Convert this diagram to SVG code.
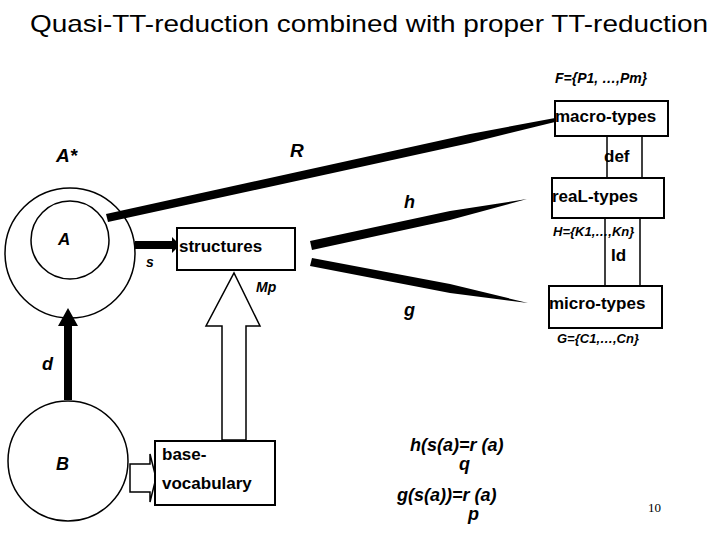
<svg xmlns="http://www.w3.org/2000/svg" width="720" height="540" viewBox="0 0 720 540">
<style>
.t{font-family:"Liberation Sans",Arial,sans-serif;font-weight:bold;fill:#000}
.i{font-style:italic}
.box{fill:#fff;stroke:#000;stroke-width:2}
.ln{fill:none;stroke:#000;stroke-width:1.5}
</style>
<rect width="720" height="540" fill="#fff"/>
<text x="30" y="32" font-family="Liberation Sans,Arial,sans-serif" font-size="24" textLength="678" lengthAdjust="spacingAndGlyphs">Quasi-TT-reduction combined with proper TT-reduction</text>
<g id="connectors">
<polygon points="106,214 108,222 470,143 555,122 555,118 470,134"/>
<polygon points="135,241 172,241 172,237 180,245 172,253 172,249 135,249"/>
<polygon points="310,241 312,250 450,220 527,199 450,211"/>
<polygon points="312,258 310,266 450,293 528,303 450,284"/>
<polygon points="64,400 72,400 72,326 78,326 68,308 58,326 64,326"/>
<polygon points="222,440 246,440 246,326 260,326 234,273 206,326 222,326" fill="#fff" stroke="#000" stroke-width="1.5"/>
<polygon points="130,464 150,464 150,454 156,478 150,502 150,492 130,492" fill="#fff" stroke="#000" stroke-width="1.5"/>
<line class="ln" x1="607" y1="135" x2="607" y2="178"/>
<line class="ln" x1="642" y1="135" x2="642" y2="178"/>
<line class="ln" x1="605" y1="218" x2="605" y2="286"/>
<line class="ln" x1="640" y1="218" x2="640" y2="286"/>
</g>
<g id="Astar"><circle cx="70" cy="253" r="65" class="ln"/><text x="56" y="162" class="t i" font-size="19">A*</text></g>
<g id="A"><circle cx="70" cy="240" r="39" class="ln"/><text x="58" y="245" class="t i" font-size="17" font-weight="normal">A</text></g>
<g id="B"><circle cx="68" cy="461" r="60" class="ln"/><text x="56" y="470" class="t i" font-size="18">B</text></g>
<g id="structures"><rect x="177" y="228" width="118" height="42" class="box"/><text x="179" y="252" class="t" font-size="17">structures</text></g>
<g id="base"><rect x="155" y="441" width="120" height="64" class="box"/><text x="162" y="460" class="t" font-size="17">base-</text><text x="162" y="489" class="t" font-size="17">vocabulary</text></g>
<g id="macro"><rect x="555" y="101" width="113" height="35" class="box"/><text x="555" y="122" class="t" font-size="17">macro-types</text></g>
<g id="real"><rect x="552" y="178" width="112" height="40" class="box"/><text x="552" y="202" class="t" font-size="17">reaL-types</text></g>
<g id="micro"><rect x="549" y="286" width="113" height="42" class="box"/><text x="549" y="309" class="t" font-size="17">micro-types</text></g>
<g id="labels">
<text x="290" y="157" class="t i" font-size="19">R</text>
<text x="146" y="267" class="t i" font-size="14">s</text>
<text x="256" y="292" class="t i" font-size="14">Mp</text>
<text x="404" y="208" class="t i" font-size="18">h</text>
<text x="404" y="316" class="t i" font-size="18">g</text>
<text x="42" y="370" class="t i" font-size="18">d</text>
<text x="604" y="162" class="t" font-size="17">def</text>
<text x="611" y="261" class="t" font-size="17">Id</text>
<text x="555" y="83" class="t i" font-size="14">F={P1, …,Pm}</text>
<text x="553" y="236" class="t i" font-size="13">H={K1,…,Kn}</text>
<text x="557" y="343" class="t i" font-size="13">G={C1,…,Cn}</text>
<text x="410" y="451" class="t i" font-size="18">h(s(a)=r  (a)</text>
<text x="459" y="470" class="t i" font-size="18">q</text>
<text x="397" y="501" class="t i" font-size="18">g(s(a))=r  (a)</text>
<text x="468" y="520" class="t i" font-size="18">p</text>
<text x="648" y="512" font-family="Liberation Serif,serif" font-size="13">10</text>
</g>
</svg>
